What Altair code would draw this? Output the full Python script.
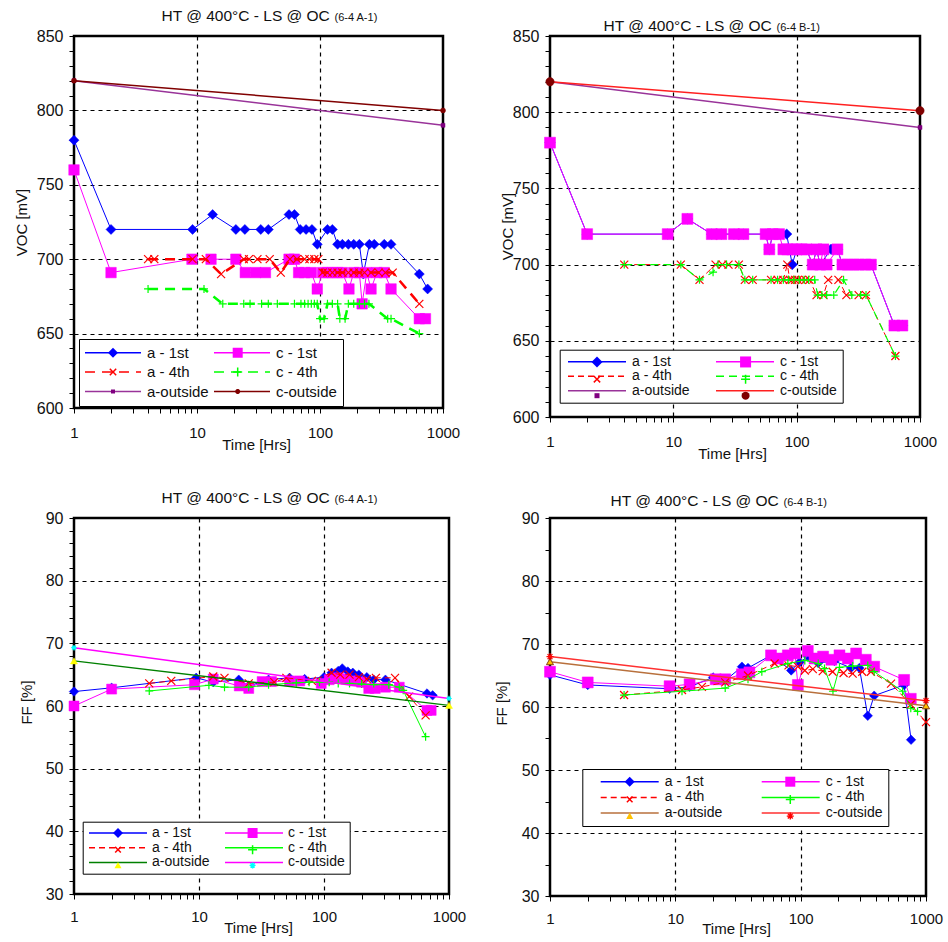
import math
import altair as alt
import pandas as pd

FONT = "Liberation Sans"
INK = "#111111"
ZW = "\u200b"

NAMES = ["a - 1st", "c - 1st", "a - 4th", "c - 4th", "a-outside", "c-outside"]
LEG_ORDER = ["a - 1st", "a - 4th", "a-outside", "c - 1st", "c - 4th", "c-outside"]
XTICKS = [1, 2, 3, 4, 5, 6, 7, 8, 9, 10, 20, 30, 40, 50, 60, 70, 80, 90,
          100, 200, 300, 400, 500, 600, 700, 800, 900, 1000]
MAIN_TITLE = "HT @ 400°C - LS @ OC"

# ---------------- data ----------------
# Panel 1 : VOC [mV], sample 6-4 A-1
TL_A1_T = [1, 2, 9.2, 13.4, 20.7, 24.5, 33, 38, 56, 62, 69, 77, 86, 95, 115, 126, 139, 152, 170, 188,
           209, 225, 252, 276, 333, 378, 642, 750]
TL_A1_V = [780, 720, 720, 730, 720, 720, 720, 720, 730, 730, 720, 720, 720, 710, 720, 720, 710, 710, 710, 710,
           710, 690, 710, 710, 710, 710, 690, 680]
TL_C1_T = [1, 2, 9.1, 13, 20.7, 24.7, 30, 36, 56, 62, 67, 75, 85, 95, 105, 115, 126, 139, 152, 172,
           188, 209, 220, 240, 260, 290, 333, 378, 642, 720]
TL_C1_V = [760, 691, 700, 700, 700, 691, 691, 691, 700, 700, 691, 691, 691, 680, 691, 691, 691, 691, 691, 680,
           691, 691, 670, 691, 680, 691, 691, 680, 660, 660]
TL_A4_T = [4, 4.5, 9.2, 11.8, 15.7, 24, 26.5, 31, 39, 48, 57, 65, 75, 82, 90, 97, 105, 115, 126, 139,
           152, 170, 188, 209, 230, 260, 300, 340, 390, 642]
TL_A4_V = [700, 700, 700, 700, 690, 700, 700, 700, 700, 691, 700, 700, 700, 700, 700, 700, 691, 691, 691, 691,
           691, 691, 691, 691, 691, 691, 691, 691, 691, 670]
TL_C4_T = [4, 11.4, 16.2, 24, 27, 33.5, 38, 45, 62, 70, 75, 80, 85, 90, 95, 100, 108, 115, 126, 139,
           145, 160, 170, 188, 209, 230, 250, 355, 378, 642]
TL_C4_V = [680, 680, 670, 670, 670, 670, 670, 670, 670, 670, 670, 670, 670, 670, 670, 660, 660, 670, 670, 670,
           660, 660, 670, 670, 670, 670, 670, 660, 660, 650]
TL_AO_T = [1, 1000]
TL_AO_V = [820, 790]
TL_CO_T = [1, 1000]
TL_CO_V = [820, 800]

# Panel 2 : VOC [mV], sample 6-4 B-1
TR_A1_T = [1, 2, 9, 13, 20.5, 24.5, 31, 37, 56, 60, 64, 72, 83, 92, 100, 110, 120, 135, 145, 155,
           190, 214, 235, 260, 290, 320, 360, 400, 620, 720]
TR_A1_V = [780, 720, 720, 730, 720, 720, 720, 720, 720, 710, 720, 720, 720, 700, 710, 710, 710, 700, 710, 700,
           710, 710, 700, 700, 700, 700, 700, 700, 660, 660]
TR_C1_T = [1, 2, 9, 13, 20.5, 24.5, 31, 37, 56, 60, 64, 72, 78, 84, 92, 100, 110, 120, 135, 145,
           155, 165, 175, 214, 235, 260, 290, 320, 360, 400, 620, 720]
TR_C1_V = [780, 720, 720, 730, 720, 720, 720, 720, 720, 710, 720, 720, 710, 710, 710, 710, 710, 710, 700, 710,
           700, 710, 700, 710, 700, 700, 700, 700, 700, 700, 660, 660]
TR_A4_T = [4, 11.5, 16.3, 22, 25, 28, 34, 38, 44, 62, 70, 78, 84, 88, 92, 97, 102, 110, 118, 127,
           145, 165, 180, 218, 253, 318, 365, 632]
TR_A4_V = [700, 700, 690, 700, 700, 700, 700, 690, 690, 690, 690, 690, 700, 690, 690, 690, 690, 690, 690, 690,
           680, 680, 690, 690, 680, 680, 680, 640]
TR_C4_T = [4, 11.5, 16.3, 21, 23, 27, 34, 38, 44, 62, 70, 78, 86, 95, 105, 115, 125, 140, 148, 160,
           175, 200, 240, 280, 330, 365, 632]
TR_C4_V = [700, 700, 690, 695, 700, 700, 700, 690, 690, 690, 690, 690, 690, 690, 690, 690, 690, 690, 680, 680,
           680, 680, 690, 680, 680, 680, 640]
TR_AO_T = [1, 1000]
TR_AO_V = [820, 790]
TR_CO_T = [1, 1000]
TR_CO_V = [820, 801]

# Panel 3 : FF [%], sample 6-4 A-1
BL_A1_T = [1, 2, 9.5, 13, 20.8, 25, 36, 53, 70, 100, 115, 130, 140, 155, 170, 190, 220, 250, 310, 667, 740]
BL_A1_V = [62.3, 62.9, 64.5, 63.8, 64.2, 63.2, 64.2, 64.5, 64.3, 64.6, 65.3, 65.6, 66.0, 65.5, 65.3, 65.0,
           64.6, 64.2, 64.2, 62.0, 61.7]
BL_C1_T = [1, 2, 9.2, 13, 21, 25, 32, 38, 53, 64, 95, 110, 130, 150, 175, 200, 228, 257, 310, 400, 667, 720]
BL_C1_V = [60.0, 62.7, 63.4, 64.3, 63.2, 62.8, 63.9, 63.9, 64.0, 64.0, 63.6, 64.2, 64.5, 64.3, 64.0, 63.8,
           62.8, 62.8, 63.0, 63.0, 59.3, 59.3]
BL_A4_T = [4, 6, 13, 16, 25, 40, 50, 80, 115, 135, 160, 190, 220, 260, 370, 480, 650]
BL_A4_V = [63.6, 64.0, 64.7, 64.5, 63.6, 63.8, 64.5, 64.0, 65.3, 65.0, 65.0, 64.6, 64.3, 64.5, 64.5, 61.5, 58.5]
BL_C4_T = [4, 12, 16, 25, 36, 60, 76, 92, 110, 130, 160, 200, 250, 330, 400, 430, 650]
BL_C4_V = [62.4, 63.3, 63.0, 63.0, 63.4, 63.7, 63.8, 63.8, 63.8, 63.6, 63.6, 63.5, 63.4, 63.4, 63.0, 62.5, 55.1]
BL_AO_T = [1, 1000]
BL_AO_V = [67.2, 60.1]
BL_CO_T = [1, 1000]
BL_CO_V = [69.3, 61.2]

# Panel 4 : FF [%], sample 6-4 B-1
BR_A1_T = [1, 2, 9, 13, 20, 25, 34, 38, 58, 84, 98, 114, 138, 186, 252, 294, 343, 386, 669, 760]
BR_A1_V = [65.1, 63.5, 62.9, 63.2, 64.7, 64.2, 66.4, 66.2, 68.2, 65.8, 67.1, 68.0, 67.0, 67.3, 66.2, 66.2,
           58.6, 61.8, 63.5, 54.8]
BR_C1_T = [1, 2, 9, 13, 21, 25, 34, 39, 58, 66, 79, 90, 95, 114, 129, 151, 176, 204, 238, 277, 331, 386, 669, 756]
BR_C1_V = [65.6, 63.9, 63.3, 63.6, 64.4, 64.4, 65.2, 65.5, 68.2, 67.7, 68.2, 68.5, 63.5, 68.9, 67.7, 68.0,
           67.5, 68.2, 67.7, 68.5, 67.5, 66.4, 64.3, 61.3]
BR_A4_T = [3.9, 11.3, 16.3, 25, 38, 62, 80, 95, 108, 125, 150, 180, 220, 260, 310, 363, 526, 756, 1000]
BR_A4_V = [61.9, 62.7, 63.2, 63.9, 65.0, 66.9, 66.6, 66.4, 65.8, 66.0, 65.7, 65.6, 65.4, 65.3, 65.6, 65.6,
           63.7, 60.4, 57.6]
BR_C4_T = [3.9, 11.3, 25, 38, 49, 79, 108, 138, 155, 181, 204, 260, 343, 386, 650, 756, 856]
BR_C4_V = [61.9, 62.5, 63.0, 64.4, 65.6, 66.9, 67.4, 66.9, 66.1, 62.5, 66.3, 66.5, 66.6, 65.6, 62.5, 59.8, 59.3]
BR_AO_T = [1, 1000]
BR_AO_V = [67.2, 60.2]
BR_CO_T = [1, 1000]
BR_CO_V = [68.0, 61.0]

# ---------------- marker geometry ----------------
DATA_SHAPE = {
    "diamond": ("diamond", True),
    "square": ("square", True),
    "sqs": ("square", True),
    "circle": ("circle", True),
    "tri": ("triangle-up", True),
    "x": ("M-1,-1L1,1M-1,1L1,-1", False),
    "+": ("M-1,0L1,0M0,-1L0,1", False),
    "ast": ("M-1,0L1,0M0,-1L0,1M-0.7,-0.7L0.7,0.7M-0.7,0.7L0.7,-0.7", False),
}

# Arial / Liberation Sans advance widths (em) for legend label measurement
CW = {"a": .556, "c": .5, " ": .278, "-": .333, "1": .556, "4": .556, "s": .5, "t": .278, "h": .556,
      "o": .556, "u": .556, "i": .222, "d": .556, "e": .556}


def text_w(s, fs):
    return sum(CW.get(ch, .556) for ch in s) * fs


def _poly(pts, u):
    return "M" + "L".join(f"{x / u:.3f},{y / u:.3f}" for x, y in pts) + "Z"


def _plus(r, w):
    return [(-w, -r), (w, -r), (w, -w), (r, -w), (r, w), (w, w), (w, r), (-w, r),
            (-w, w), (-r, w), (-r, -w), (-w, -w)]


def _rot(pts):
    c = math.sqrt(0.5)
    return [((x - y) * c, (x + y) * c) for x, y in pts]


def legend_marker(kind, r, u):
    if kind == "diamond":
        return _poly([(0, -r), (r, 0), (0, r), (-r, 0)], u)
    if kind in ("square", "sqs"):
        return _poly([(-r, -r), (r, -r), (r, r), (-r, r)], u)
    if kind == "tri":
        return _poly([(0, -r), (r, 0.8 * r), (-r, 0.8 * r)], u)
    if kind == "circle":
        return _poly([(r * math.cos(2 * math.pi * i / 20), r * math.sin(2 * math.pi * i / 20))
                      for i in range(20)], u)
    if kind == "x":
        return _poly(_rot(_plus(r, 0.75)), u)
    if kind == "+":
        return _poly(_plus(r, 0.75), u)
    if kind == "ast":
        return _poly(_plus(r, 0.7), u) + _poly(_rot(_plus(r, 0.7)), u)
    return _poly([(-r, -r), (r, -r), (r, r), (-r, r)], u)


def cond(test, a, b):
    return {"condition": {"test": test, "value": a}, "value": b}


def make_panel(data, styles, ycfg, W, H, leg, ttl, xt, yt):
    lo, hi = ycfg["domain"]
    step, every = ycfg["step"], ycfg["every"]
    xs = alt.Scale(type="log", domain=[1, 1000], nice=False)
    ys = alt.Scale(domain=[lo, hi], nice=False, zero=False)
    xaxis = alt.Axis(
        values=XTICKS,
        labelExpr="(datum.value == 1 || datum.value == 10 || datum.value == 100 || datum.value == 1000)"
                  " ? format(datum.value, 'd') : ''",
        labelFlush=False, labelOverlap=False, labelBound=False,
        labelFontSize=15, labelPadding=xt["lp"], tickSize=5,
        gridOpacity=cond("datum.value == 10 || datum.value == 100", 1, 0),
        title="Time [Hrs]", titleX=xt["x"], titleY=xt["y"], titleAlign="center", titleBaseline="middle",
        titleFontSize=15,
    )
    yvals = list(range(lo, hi + 1, step))
    yaxis = alt.Axis(
        values=yvals,
        labelExpr=f"datum.value % {every} == 0 ? format(datum.value, 'd') : ''",
        labelOverlap=False, labelFontSize=16, labelPadding=6, tickSize=5,
        gridOpacity=cond(f"datum.value % {every} == 0 && datum.value > {lo} && datum.value < {hi}", 1, 0),
        title=ycfg["title"], titleX=yt["x"], titleY=yt["y"], titleAngle=270,
        titleAlign="center", titleBaseline="middle", titleFontSize=15,
    )
    # panel title: main text carried by a bare top axis, sample id by a bare right axis
    top_axis = alt.Axis(
        orient="top", labels=False, ticks=False, domain=False, grid=False,
        title=MAIN_TITLE, titleFontSize=15.5, titleX=ttl["mx"], titleY=ttl["y"],
        titleAlign="left", titleBaseline="alphabetic", titleAngle=0,
    )
    right_axis = alt.Axis(
        orient="right", labels=False, ticks=False, domain=False, grid=False,
        title=ttl["sub"], titleFontSize=11, titleX=ttl["sx"], titleY=ttl["y"],
        titleAlign="left", titleBaseline="alphabetic", titleAngle=0,
    )
    x_main = alt.X("t:Q", scale=xs, axis=xaxis)
    x_none = alt.X("t:Q", scale=xs, axis=None)
    y_main = alt.Y("v:Q", scale=ys, axis=yaxis)
    y_none = alt.Y("v:Q", scale=ys, axis=None)
    layers = []
    first = True
    for name, (tt, vv) in zip(NAMES, data):
        st = styles[name]
        df = pd.DataFrame({"t": tt, "v": vv, "i": list(range(len(tt)))})
        lkw = dict(color=st["lc"], strokeWidth=st["lw"])
        if st.get("dash"):
            lkw["strokeDash"] = st["dash"]
        layers.append(alt.Chart(df).mark_line(**lkw).encode(
            x=x_main if first else x_none, y=y_main if first else y_none, order=alt.Order("i:Q")))
        first = False
        shp, filled = DATA_SHAPE[st["m"]]
        pkw = dict(shape=shp, filled=filled, size=st["ms"], opacity=1,
                   strokeWidth=st.get("msw", 1.2))
        if filled:
            pkw["fill"] = st["mc"]
            pkw["stroke"] = st.get("mstroke", st["mc"])
            pkw["strokeWidth"] = st.get("msw", 0.5)
        else:
            pkw["color"] = st["mc"]
        layers.append(alt.Chart(df).mark_point(**pkw).encode(x=x_none, y=y_none))

    # legend: two overlapping legends (line part with labels + marker part)
    u = math.sqrt(leg["ss"]) / 2.0
    half = leg["half"] / u
    line_path = f"M{-half:.3f},0L{half:.3f},0"
    names_b = [ZW + n for n in LEG_ORDER]
    leg_df = pd.DataFrame({"s": LEG_ORDER, "m": names_b, "t": [1.0] * 6, "v": [float(lo)] * 6})
    col1_w = max(text_w(n, leg["fs"]) for n in LEG_ORDER[:3])
    common = dict(orient="none", legendX=leg["x"], legendY=leg["y"], columns=2, title=None,
                  padding=leg["p"], symbolOffset=leg["so"], labelOffset=leg["lo"],
                  rowPadding=leg["rp"], symbolSize=leg["ss"],
                  symbolStrokeWidth=1.5, labelFont=FONT, labelFontSize=leg["fs"], labelColor=INK,
                  labelLimit=0, cornerRadius=0)
    leg_a = alt.Legend(fillColor="white", strokeColor="black", symbolType=line_path,
                       symbolFillColor="transparent", columnPadding=leg["cp"], **common)
    leg_b = alt.Legend(labelExpr="''", symbolStrokeColor="transparent",
                       columnPadding=leg["cp"] + col1_w, **common)
    line_colors = [styles[n]["lc"] for n in LEG_ORDER]
    dashes = [styles[n].get("dash", [1, 0]) for n in LEG_ORDER]
    mcolors = [styles[n]["mc"] for n in LEG_ORDER]
    mpaths = [legend_marker(styles[n]["m"], styles[n]["lr"], u) for n in LEG_ORDER]
    layers.append(
        alt.Chart(leg_df).transform_filter("false")
        .mark_point(shape=line_path, filled=False, opacity=1, strokeWidth=1.5)
        .encode(x=alt.X("t:Q", scale=xs, axis=top_axis),
                color=alt.Color("s:N", scale=alt.Scale(domain=LEG_ORDER, range=line_colors), legend=leg_a),
                strokeDash=alt.StrokeDash("s:N", scale=alt.Scale(domain=LEG_ORDER, range=dashes),
                                          legend=leg_a))
    )
    layers.append(
        alt.Chart(leg_df).transform_filter("false")
        .mark_point(filled=True, opacity=1)
        .encode(y=alt.Y("v:Q", scale=ys, axis=right_axis),
                fill=alt.Fill("m:N", scale=alt.Scale(domain=names_b, range=mcolors), legend=leg_b),
                shape=alt.Shape("m:N", scale=alt.Scale(domain=names_b, range=mpaths), legend=leg_b))
    )
    return (alt.layer(*layers).resolve_axis(x="independent", y="independent")
            .properties(width=W, height=H))


BLUE, MAG, RED, GRN = "#0000FF", "#FF00FF", "#FF0000", "#00FF00"

TL_STY = {
    "a - 1st": dict(lc=BLUE, lw=1, m="diamond", ms=100, mc=BLUE, lr=5),
    "c - 1st": dict(lc=MAG, lw=1, m="square", ms=110, mc=MAG, lr=5),
    "a - 4th": dict(lc=RED, lw=2.5, dash=[10, 7], m="x", ms=64, mc=RED, lr=4.5),
    "c - 4th": dict(lc=GRN, lw=2.5, dash=[10, 7], m="+", ms=64, mc=GRN, lr=4.5),
    "a-outside": dict(lc="#993399", lw=1.5, m="sqs", ms=16, mc="#800080", lr=2),
    "c-outside": dict(lc="#800000", lw=1.5, m="circle", ms=25, mc="#800000", lr=2.5),
}
TR_STY = {
    "a - 1st": dict(lc=BLUE, lw=1, m="diamond", ms=110, mc=BLUE, lr=5.5),
    "c - 1st": dict(lc=MAG, lw=1, m="square", ms=120, mc=MAG, lr=5.5),
    "a - 4th": dict(lc=RED, lw=1, dash=[6, 4], m="x", ms=64, mc=RED, lr=4.5),
    "c - 4th": dict(lc=GRN, lw=1.2, dash=[8, 5], m="+", ms=64, mc=GRN, lr=4.5),
    "a-outside": dict(lc="#993399", lw=1.5, m="sqs", ms=16, mc="#800080", lr=2.5),
    "c-outside": dict(lc="#FF2020", lw=1.5, m="circle", ms=70, mc="#800000", lr=4),
}
BL_STY = {
    "a - 1st": dict(lc=BLUE, lw=1, m="diamond", ms=90, mc=BLUE, lr=5),
    "c - 1st": dict(lc=MAG, lw=1, m="square", ms=100, mc=MAG, lr=5),
    "a - 4th": dict(lc=RED, lw=1, dash=[6, 4], m="x", ms=64, mc=RED, lr=4),
    "c - 4th": dict(lc=GRN, lw=1, m="+", ms=64, mc=GRN, lr=4.5),
    "a-outside": dict(lc="#008000", lw=1.5, m="tri", ms=50, mc="#FFFF00", lr=3.5),
    "c-outside": dict(lc=MAG, lw=1.5, m="ast", ms=30, mc="#00FFFF", lr=3),
}
BR_STY = {
    "a - 1st": dict(lc=BLUE, lw=1, m="diamond", ms=90, mc=BLUE, lr=5),
    "c - 1st": dict(lc=MAG, lw=1, m="square", ms=120, mc=MAG, lr=5),
    "a - 4th": dict(lc=RED, lw=1, dash=[6, 4], m="x", ms=64, mc=RED, lr=4),
    "c - 4th": dict(lc=GRN, lw=1, m="+", ms=64, mc=GRN, lr=4.5),
    "a-outside": dict(lc="#B8703C", lw=1.5, m="tri", ms=50, mc="#FFC000", mstroke="#8B4513", msw=1, lr=3.5),
    "c-outside": dict(lc="#FF3030", lw=1.5, m="ast", ms=50, mc=RED, lr=3.5),
}

VOC = dict(domain=(600, 850), step=10, every=50, title="VOC [mV]")
FF_L = dict(domain=(30, 90), step=2, every=10, title="FF [%]")
FF_R = dict(domain=(30, 90), step=5, every=10, title="FF [%]")

tl = make_panel(
    [(TL_A1_T, TL_A1_V), (TL_C1_T, TL_C1_V), (TL_A4_T, TL_A4_V), (TL_C4_T, TL_C4_V),
     (TL_AO_T, TL_AO_V), (TL_CO_T, TL_CO_V)],
    TL_STY, VOC, 369, 372,
    dict(x=5, y=303, p=6, so=20.5, lo=26.5, cp=1, rp=3.5, ss=144, fs=15, half=28),
    dict(mx=87, sx=-109, y=-16, sub="(6-4 A-1)"),
    dict(x=182, y=36, lp=12), dict(x=-53, y=186),
)
tr = make_panel(
    [(TR_A1_T, TR_A1_V), (TR_C1_T, TR_C1_V), (TR_A4_T, TR_A4_V), (TR_C4_T, TR_C4_V),
     (TR_AO_T, TR_AO_V), (TR_CO_T, TR_CO_V)],
    TR_STY, VOC, 370, 381,
    dict(x=9.7, y=313.7, p=5, so=25.3, lo=28, cp=23, rp=0.5, ss=144, fs=14, half=29),
    dict(mx=53, sx=-144, y=-6, sub="(6-4 B-1)"),
    dict(x=182, y=36, lp=12), dict(x=-43, y=190),
)
bl = make_panel(
    [(BL_A1_T, BL_A1_V), (BL_C1_T, BL_C1_V), (BL_A4_T, BL_A4_V), (BL_C4_T, BL_C4_V),
     (BL_AO_T, BL_AO_V), (BL_CO_T, BL_CO_V)],
    BL_STY, FF_L, 375, 376,
    dict(x=8.7, y=303.7, p=4.3, so=24, lo=27, cp=12, rp=0.7, ss=144, fs=14, half=29),
    dict(mx=87, sx=-115, y=-16, sub="(6-4 A-1)"),
    dict(x=184, y=33, lp=10), dict(x=-48, y=184),
)
br = make_panel(
    [(BR_A1_T, BR_A1_V), (BR_C1_T, BR_C1_V), (BR_A4_T, BR_A4_V), (BR_C4_T, BR_C4_V),
     (BR_AO_T, BR_AO_V), (BR_CO_T, BR_CO_V)],
    BR_STY, FF_R, 376, 378,
    dict(x=32.3, y=251, p=5.7, so=34.7, lo=28, cp=26, rp=1.7, ss=144, fs=14, half=29),
    dict(mx=60, sx=-143, y=-13, sub="(6-4 B-1)"),
    dict(x=186, y=32, lp=10), dict(x=-49, y=185),
)

chart = (
    alt.concat(tl, tr, bl, br, columns=2, bounds="flush", spacing={"row": 101, "column": 101})
    .resolve_scale(x="independent", y="independent", color="independent", fill="independent",
                   shape="independent", strokeDash="independent")
    .resolve_legend(color="independent", fill="independent", shape="independent",
                    strokeDash="independent")
    .properties(padding={"left": 12, "top": 6, "right": 4, "bottom": 4}, background="white")
    .configure_view(stroke="black", strokeWidth=2.5)
    .configure_axis(labelFont=FONT, titleFont=FONT, labelColor=INK, titleColor=INK,
                    titleFontWeight="normal", domain=False, tickColor="black", tickWidth=1,
                    gridColor="black", gridDash=[4, 4], gridWidth=1.2)
)

chart.save("out.html", embed_options={"renderer": "svg", "actions": False})
